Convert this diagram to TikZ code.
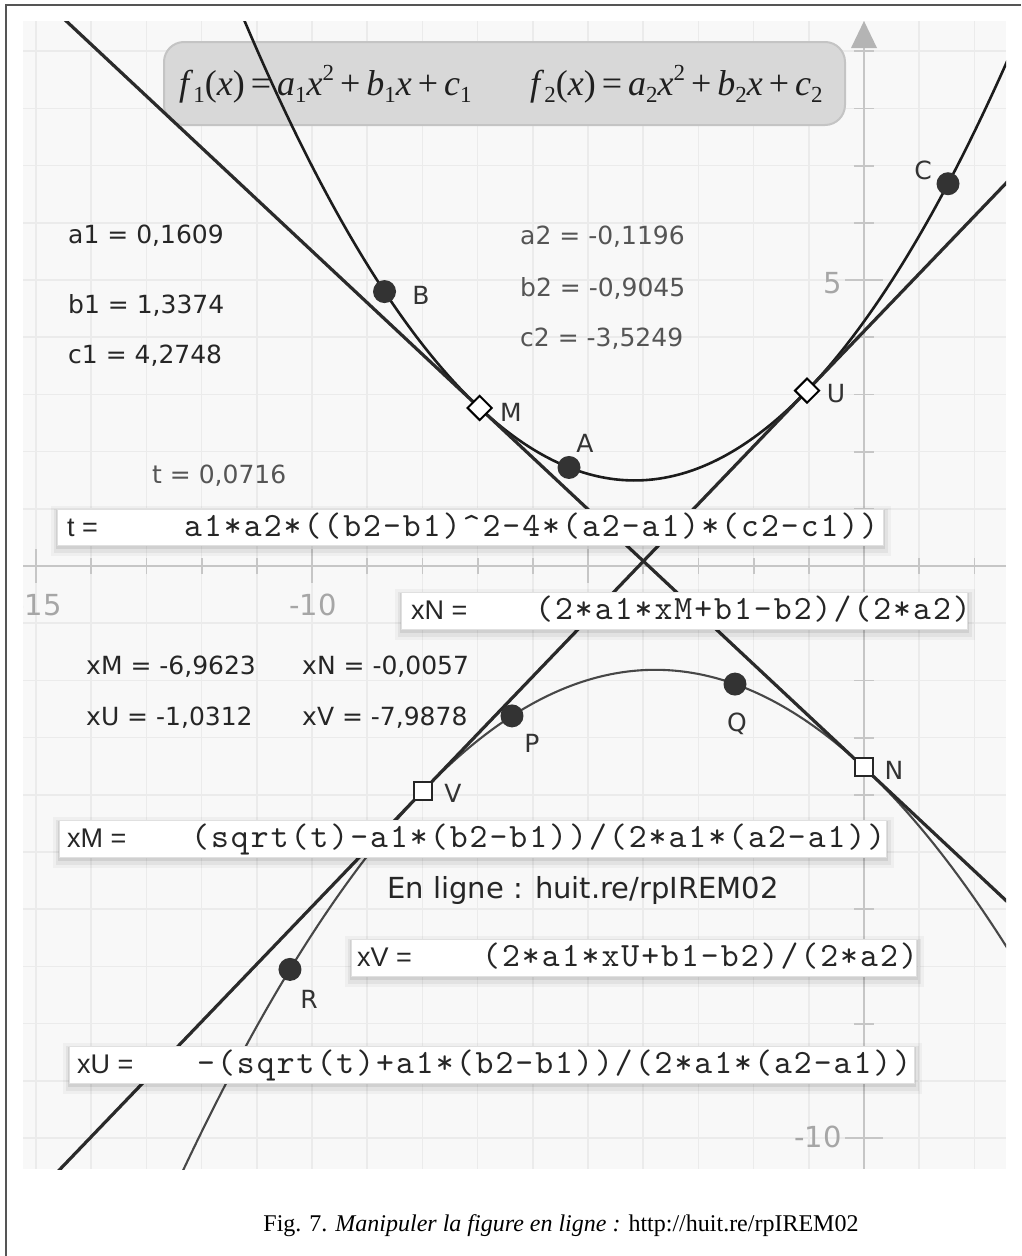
\documentclass[tikz,border=0pt]{standalone}
\usepackage{fontspec}
\setmainfont{Liberation Serif}
\newfontfamily\vfont{DejaVu Sans}
\newfontfamily\lsfont{Liberation Sans}
\newfontfamily\monofont{lmmono10-regular}[Extension=.otf,LetterSpace=6]
\usetikzlibrary{calc,shapes.geometric}
\definecolor{gridc}{HTML}{EBEBEB}
\definecolor{bgc}{HTML}{F8F8F8}
\definecolor{axisc}{HTML}{C6C6C6}
\definecolor{arrowc}{HTML}{B4B4B4}
\definecolor{axlabc}{HTML}{A6A6A6}
\definecolor{curveA}{HTML}{1C1C1C}
\definecolor{curveB}{HTML}{474747}
\definecolor{tangc}{HTML}{2A2A2A}
\definecolor{dotc}{HTML}{333333}
\definecolor{valc}{HTML}{262626}
\definecolor{valcb}{HTML}{555555}
\definecolor{grayboxc}{HTML}{D8D8D8}
\definecolor{grayboxd}{HTML}{C4C4C4}
\definecolor{framec}{HTML}{555555}
\newcommand\ivar[1]{\textit{#1}}
\newcommand\lowidx[1]{\raisebox{-0.2em}{\fontsize{23}{23}\selectfont #1}}
\newcommand\highidx[1]{\raisebox{0.42em}{\fontsize{23}{23}\selectfont #1}}
\begin{document}
\begin{tikzpicture}[x=1pt,y=-1pt,
  declare function={X(\x)=864+55.2*\x; Y(\x)=566-57.2*\x;
    fa(\x)=0.1609*\x*\x+1.3374*\x+4.2748;
    fb(\x)=-0.1196*\x*\x-0.9045*\x-3.5249;},
  gridline/.style={draw=gridc, line width=1.6pt},
  axisline/.style={draw=axisc, line width=1.8pt},
  axlab/.style={text=axlabc, font=\vfont\fontsize{29}{34}\selectfont, inner sep=0pt, anchor=east},
  fone/.style={draw=curveA, line width=2.6pt},
  ftwo/.style={draw=curveB, line width=2.1pt},
  tangent/.style={draw=tangc, line width=3.2pt},
  dot/.style={circle, fill=dotc, minimum size=23pt, inner sep=0pt},
  diam/.style={diamond, draw=black, fill=white, line width=2pt, minimum width=25pt, minimum height=25pt, inner sep=0pt},
  sq/.style={rectangle, draw=black!85, fill=white, line width=2pt, minimum size=18pt, inner sep=0pt},
  ptlab/.style={text=dotc, font=\vfont\fontsize{25}{30}\selectfont, inner sep=0pt},
  vlab/.style={anchor=west, inner sep=0pt, text=valc, font=\vfont\fontsize{25}{30}\selectfont},
  wbox/.style={rectangle, anchor=north west, inner sep=0pt, fill=white, draw=black!12, line width=1pt,
    preaction={draw=black, draw opacity=0.035, line width=14pt, transform canvas={yshift=-3pt}},
    preaction={draw=black, draw opacity=0.05, line width=8pt, transform canvas={yshift=-3pt}},
    preaction={draw=black, draw opacity=0.08, line width=3pt, transform canvas={yshift=-2pt}}},
  blabel/.style={anchor=base west, inner sep=0pt, text=black!85, font=\lsfont\fontsize{27}{32}\selectfont},
  bform/.style={anchor=base west, inner sep=0pt, text=black!85, font=\monofont\fontsize{34}{40}\selectfont},
  graybox/.style={rectangle, anchor=north west, rounded corners=20pt, fill=grayboxc, draw=grayboxd, line width=2pt, inner sep=0pt},
  ftext/.style={inner sep=0pt, text=black!88, font=\fontsize{36}{40}\selectfont},
  caption/.style={inner sep=0pt, text=black, font=\fontsize{24}{28}\selectfont}
]
\useasboundingbox (0,0) rectangle (1021,1256);
\fill[white] (0,0) rectangle (1021,1256);
\draw[framec, line width=1.3pt] (6,1256) -- (6,5) -- (1021,5);
\fill[bgc] (23,21) rectangle (1006,1169);

\begin{scope}
\clip (23,21) rectangle (1006,1169);
% grid
\foreach \k in {-15,...,2} \draw[gridline] ({X(\k)},21) -- ({X(\k)},1169);
\foreach \j in {-10,...,9} \draw[gridline] (23,{Y(\j)}) -- (1006,{Y(\j)});
% axes
\draw[axisline] (23,566) -- (1006,566);
\draw[axisline] (864,48) -- (864,1169);
\fill[arrowc] (864,21) -- (851,48) -- (877,48) -- cycle;
\foreach \k in {-14,-13,-12,-11,-9,-8,-7,-6,-4,-3,-2,-1,1,2} \draw[axisline] ({X(\k)},558) -- ({X(\k)},574);
\foreach \k in {-15,-10,-5} \draw[axisline] ({X(\k)},549) -- ({X(\k)},583);
\foreach \j in {-9,-8,-7,-6,-4,-3,-2,-1,1,2,3,4,6,7,8,9} \draw[axisline] (854,{Y(\j)}) -- (874,{Y(\j)});
\foreach \j in {-10,-5,5} \draw[axisline] (845,{Y(\j)}) -- (883,{Y(\j)});
\node[axlab] (lxa) at (62,605) {-15};
\node[axlab] (lxb) at (337,605) {-10};
\node[axlab] (lya) at (842,283) {5};
\node[axlab] (lyc) at (842,1137) {-10};

% formula banner
\node[graybox, minimum width=681pt, minimum height=83pt] (fbox) at (163,41) {};
\node[ftext, anchor=west] (fone) at (179,84) {\ivar{f}\lowidx{1}(\ivar{x})\,=\,\ivar{a}\lowidx{1}\ivar{x}\highidx{2}\,+\,\ivar{b}\lowidx{1}\ivar{x}\,+\,\ivar{c}\lowidx{1}};
\node[ftext, anchor=west] (ftwo) at (530,84) {\ivar{f}\lowidx{2}(\ivar{x})\,=\,\ivar{a}\lowidx{2}\ivar{x}\highidx{2}\,+\,\ivar{b}\lowidx{2}\ivar{x}\,+\,\ivar{c}\lowidx{2}};

% curves
\draw[fone] plot[domain=-11.6:2.9, samples=200] ({X(\x)},{Y(fa(\x))});
\draw[ftwo] plot[domain=-12.6:2.9, samples=200] ({X(\x)},{Y(fb(\x))});

\coordinate (M) at ({X(-6.9623)},{Y(fa(-6.9623))});
\coordinate (U) at ({X(-1.0312)},{Y(fa(-1.0312))});
\coordinate (N) at ({X(-0.0057)},{Y(fb(-0.0057))});
\coordinate (V) at ({X(-7.9878)},{Y(fb(-7.9878))});
\draw[tangent] ($(M)!-1.4!(N)$) -- ($(N)!-0.6!(M)$);
\draw[tangent] ($(V)!-1.3!(U)$) -- ($(U)!-0.7!(V)$);

% points
\node[dot] (B) at ({X(-8.686)},{Y(fa(-8.686))}) {};
\node[dot] (A) at ({X(-5.344)},{Y(fa(-5.344))}) {};
\node[dot] (C) at ({X(1.522)},{Y(fa(1.522))}) {};
\node[dot] (P) at ({X(-6.377)},{Y(fb(-6.377))}) {};
\node[dot] (Q) at ({X(-2.337)},{Y(fb(-2.337))}) {};
\node[dot] (R) at ({X(-10.399)},{Y(fb(-10.399))}) {};
\node[diam] (Mm) at (M) {};
\node[diam] (Um) at (U) {};
\node[sq] (Nm) at (N) {};
\node[sq] (Vm) at (V) {};
\end{scope}

% point labels
\node[ptlab] (Bl) at (421,295) {B};
\node[ptlab] (Ml) at (511,412) {M};
\node[ptlab] (Al) at (585,443) {A};
\node[ptlab] (Ul) at (836,394) {U};
\node[ptlab] (Cl) at (923,170) {C};
\node[ptlab] (Pl) at (532,743) {P};
\node[ptlab] (Ql) at (737,724) {Q};
\node[ptlab] (Nl) at (894,770) {N};
\node[ptlab] (Vl) at (453,793) {V};
\node[ptlab] (Rl) at (309,999) {R};

% values
\node[vlab] (va1) at (68,236) {a1 = 0,1609};
\node[vlab] (vb1) at (68,305) {b1 = 1,3374};
\node[vlab] (vc1) at (68,356) {c1 = 4,2748};
\node[vlab, text=valcb] (va2) at (520,237) {a2 = -0,1196};
\node[vlab, text=valcb] (vb2) at (520,288) {b2 = -0,9045};
\node[vlab, text=valcb] (vc2) at (520,339) {c2 = -3,5249};
\node[vlab, text=valcb] (vt) at (152,476) {t = 0,0716};
\node[vlab] (vxM) at (86,667) {xM = -6,9623};
\node[vlab] (vxN) at (302,667) {xN = -0,0057};
\node[vlab] (vxU) at (86,718) {xU = -1,0312};
\node[vlab] (vxV) at (302,718) {xV = -7,9878};
\node[vlab, font=\vfont\fontsize{29}{34}\selectfont] (online) at (387,890) {En ligne : huit.re/rpIREM02};

% formula boxes
\node[wbox, minimum width=826pt, minimum height=36pt] (tbox) at (57,509) {};
\node[blabel] (tboxl) at (67,536) {t =};
\node[bform] (tboxf) at (184,536) {a1*a2*((b2-b1)\^{}2-4*(a2-a1)*(c2-c1))};

\node[wbox, minimum width=566pt, minimum height=37pt] (nbox) at (401,592) {};
\node[blabel] (nboxl) at (411,619) {xN =};
\node[bform] (nboxf) at (535,619) {(2*a1*xM+b1-b2)/(2*a2)};

\node[wbox, minimum width=827pt, minimum height=37pt] (mbox) at (59,820) {};
\node[blabel] (mboxl) at (67,847) {xM =};
\node[bform] (mboxf) at (191,847) {(sqrt(t)-a1*(b2-b1))/(2*a1*(a2-a1))};

\node[wbox, minimum width=565pt, minimum height=37pt] (vbox) at (351,939) {};
\node[blabel] (vboxl) at (357,966) {xV =};
\node[bform] (vboxf) at (482,966) {(2*a1*xU+b1-b2)/(2*a2)};

\node[wbox, minimum width=845pt, minimum height=37pt] (ubox) at (69,1046) {};
\node[blabel] (uboxl) at (77,1073) {xU =};
\node[bform] (uboxf) at (197,1073) {-(sqrt(t)+a1*(b2-b1))/(2*a1*(a2-a1))};

% caption
\node[caption] (cap) at (561,1226) {Fig. 7. \textit{Manipuler la figure en ligne :} http://huit.re/rpIREM02};
\end{tikzpicture}
\end{document}
